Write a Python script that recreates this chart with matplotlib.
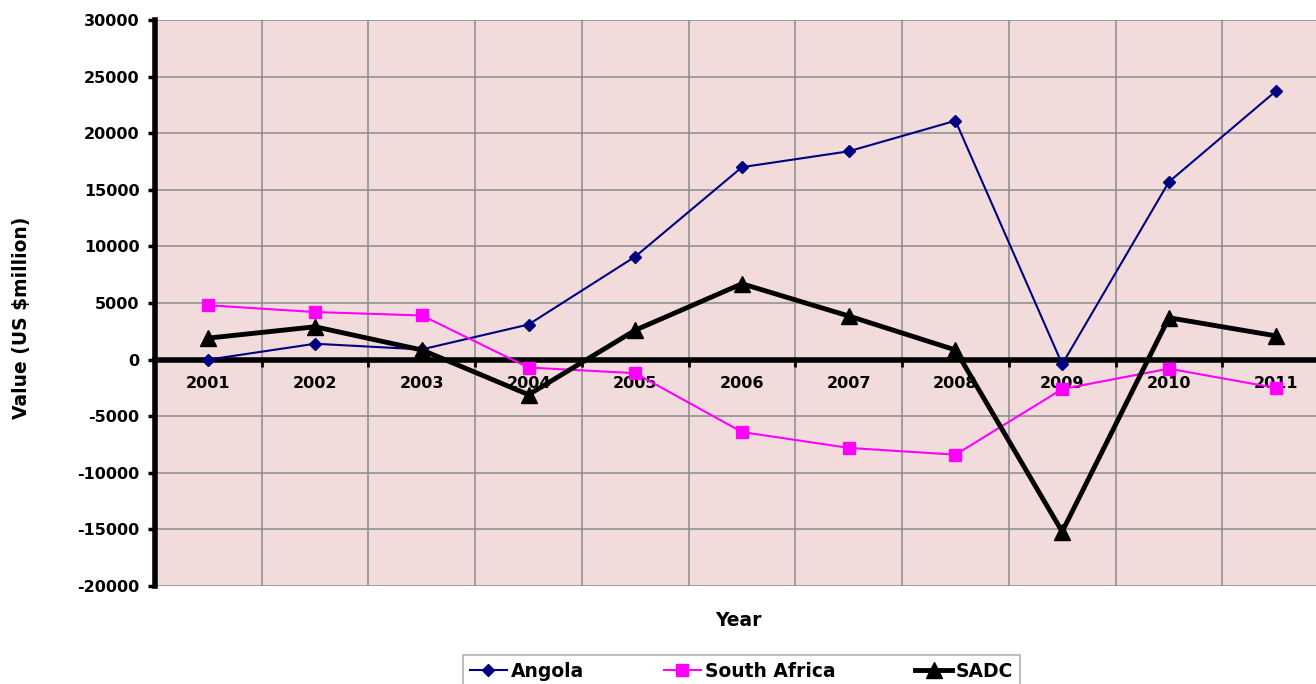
import numpy as np
import matplotlib
matplotlib.use("Agg")
import matplotlib.pyplot as plt
from matplotlib.ticker import FixedLocator

plt.rcParams["font.weight"] = "bold"

years = ["2001", "2002", "2003", "2004", "2005", "2006", "2007", "2008", "2009", "2010", "2011"]
angola = [0, 1400, 900, 3100, 9100, 17000, 18400, 21100, -400, 15700, 23700]
south_africa = [4800, 4200, 3900, -700, -1200, -6400, -7800, -8400, -2600, -800, -2500]
sadc = [1900, 2900, 850, -3100, 2600, 6700, 3850, 850, -15200, 3700, 2100]

fig = plt.figure(figsize=(13.16, 6.84), dpi=100)
ax = fig.add_axes([155 / 1316, 98 / 684, 1174 / 1316, 566 / 684])
ax.set_facecolor("#F2DCDB")

x = np.arange(len(years))
ax.plot(x, angola, color="#000080", lw=1.5, marker="D", ms=6, label="Angola", zorder=4)
ax.plot(x, south_africa, color="#FF00FF", lw=1.5, marker="s", ms=8, label="South Africa", zorder=4)
ax.plot(x, sadc, color="black", lw=3.5, marker="^", ms=11, label="SADC", zorder=5)

ax.set_xlim(-0.5, len(years) - 0.5)
ax.set_ylim(-20000, 30000)
ax.set_yticks(np.arange(-20000, 30001, 5000))
ax.set_yticklabels([str(v) for v in range(-20000, 30001, 5000)])

# category boundaries as gridlines / tick marks, labels at centres
ax.xaxis.set_major_locator(FixedLocator(np.arange(-0.5, len(years), 1.0)))
ax.xaxis.set_minor_locator(FixedLocator(x))
ax.set_xticklabels([])
ax.set_xticklabels(years, minor=True)
ax.tick_params(axis="x", which="major", length=5, width=2, direction="out", color="black")
ax.tick_params(axis="x", which="minor", length=0, pad=12, labelsize=11.5)
ax.tick_params(axis="y", length=5, width=2.5, direction="out", pad=6, labelsize=11.5)

ax.grid(True, which="major", color="#8C8C8C", lw=1.1)
ax.set_axisbelow(True)

ax.spines["bottom"].set_position(("data", 0))
ax.spines["bottom"].set_linewidth(4)
ax.spines["bottom"].set_zorder(3)
ax.spines["left"].set_linewidth(4)
ax.spines["top"].set_visible(False)
ax.spines["right"].set_visible(False)

fig.text(738 / 1316, 1 - 620 / 684, "Year", ha="center", va="center", fontsize=13.5)
fig.text(22 / 1316, 1 - 318 / 684, "Value (US $million)", ha="center", va="center",
         rotation=90, fontsize=13.5)

leg = fig.legend(loc="upper left", bbox_to_anchor=(463 / 1316, 1 - 655 / 684 - 0.01, 557 / 1316, 0.01),
                 mode="expand", ncol=3, frameon=True, fancybox=False, prop={"size": 13.5},
                 handlelength=2.0, handletextpad=0.2, columnspacing=2.2, borderpad=0.35,
                 borderaxespad=0)
leg.get_frame().set_edgecolor("#A0A0A0")
leg.get_frame().set_linewidth(1.2)

fig.savefig("out.png", dpi=100)
